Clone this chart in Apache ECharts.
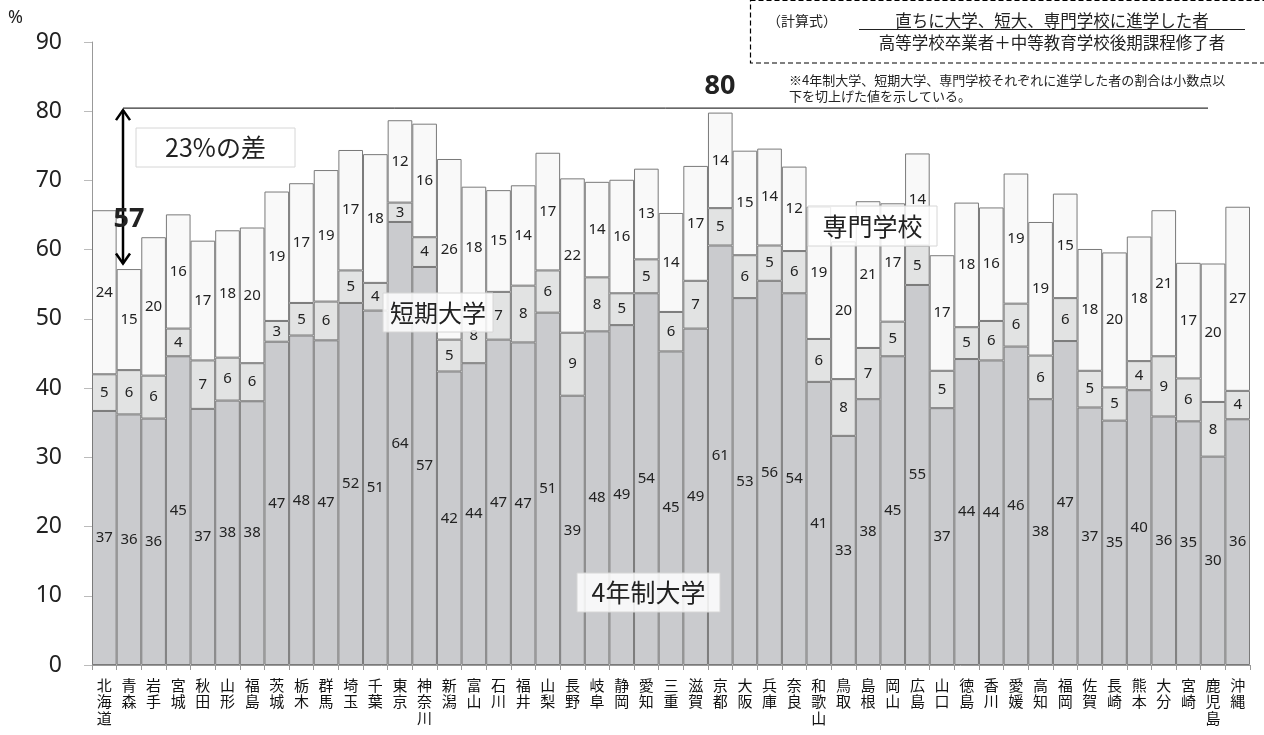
<!DOCTYPE html>
<html>
<head>
<meta charset="utf-8">
<script src="https://cdn.jsdelivr.net/npm/echarts@6/dist/echarts.min.js"></script>
<style>
  html, body { margin: 0; padding: 0; background: #fff; }
  #chart { width: 1264px; height: 735px; }
</style>
</head>
<body>
<div id="chart"></div>
<script>
// 都道府県
const prefs = ['北海道','青森','岩手','宮城','秋田','山形','福島','茨城','栃木','群馬','埼玉','千葉','東京','神奈川',
  '新潟','富山','石川','福井','山梨','長野','岐阜','静岡','愛知','三重','滋賀','京都','大阪','兵庫','奈良','和歌山',
  '鳥取','島根','岡山','広島','山口','徳島','香川','愛媛','高知','福岡','佐賀','長崎','熊本','大分','宮崎','鹿児島','沖縄'];

// 棒の高さ
const univ4 = [36.7,36.2,35.6,44.6,37.0,38.2,38.1,46.7,47.6,46.9,52.3,51.2,64.0,57.5,
  42.4,43.6,47.0,46.6,50.9,38.9,48.2,49.1,53.7,45.3,48.6,60.6,53.0,55.5,53.7,40.9,
  33.1,38.4,44.6,54.9,37.1,44.2,44.0,46.0,38.4,46.8,37.2,35.3,39.7,35.9,35.2,30.1,35.5];
const junior = [5.3,6.4,6.2,4.0,7.0,6.2,5.5,3.0,4.7,5.6,4.7,4.0,2.8,4.3,
  4.6,8.0,6.9,8.2,6.1,9.1,7.8,4.6,4.9,5.7,6.9,5.4,6.2,5.1,6.1,6.2,
  8.2,7.4,5.0,5.7,5.4,4.6,5.7,6.2,6.3,6.2,5.3,4.8,4.2,8.7,6.2,7.9,4.1];
const vocational = [23.7,14.6,20.0,16.5,17.3,18.4,19.6,18.7,17.3,19.0,17.4,18.6,11.9,16.4,
  26.1,17.5,14.7,14.5,17.0,22.3,13.8,16.4,13.1,14.3,16.6,13.8,15.1,14.0,12.2,19.1,
  19.9,21.2,17.1,13.3,16.7,18.0,16.4,18.8,19.3,15.1,17.6,19.5,18.0,21.1,16.7,20.0,26.6];

// 表示されているラベル（小数点以下切上げ）
const univ4Labels = [37,36,36,45,37,38,38,47,48,47,52,51,64,57,42,44,47,47,51,39,48,49,54,45,
  49,61,53,56,54,41,33,38,45,55,37,44,44,46,38,47,37,35,40,36,35,30,36];
const juniorLabels = [5,6,6,4,7,6,6,3,5,6,5,4,3,4,5,8,7,8,6,9,8,5,5,6,
  7,5,6,5,6,6,8,7,5,5,5,5,6,6,6,6,5,5,4,9,6,8,4];
const vocLabels = [24,15,20,16,17,18,20,19,17,19,17,18,12,16,26,18,15,14,17,22,14,16,13,14,
  17,14,15,14,12,19,20,21,17,14,17,18,16,19,19,15,18,20,18,21,17,20,27];

const yTicks = { min: 0, max: 90, interval: 10 };
const maxRate = 80;   // 京都
const minRate = 57;   // 青森

const chart = echarts.init(document.getElementById('chart'));

function segment(name, data, labels, color) {
  return {
    name: name,
    type: 'bar',
    stack: 'total',
    data: data,
    barCategoryGap: '0%',
    silent: true,
    itemStyle: { color: color, borderColor: '#7a7a7a', borderWidth: 1 },
    label: {
      show: true,
      position: 'inside',
      formatter: p => String(labels[p.dataIndex]),
      fontSize: 15,
      color: '#222',
      fontFamily: 'Noto Sans'
    }
  };
}

const option = {
  animation: false,
  grid: { left: 92, right: 14, top: 42, bottom: 70 },
  xAxis: {
    type: 'category',
    data: prefs,
    axisLine: { lineStyle: { color: '#999' } },
    axisTick: { show: true, length: 5, lineStyle: { color: '#999' } },
    axisLabel: {
      interval: 0,
      margin: 12,
      fontSize: 15,
      lineHeight: 16.5,
      color: '#111',
      verticalAlign: 'top',
      fontFamily: 'Noto Sans CJK JP',
      formatter: v => v.split('').join('\n')
    }
  },
  yAxis: {
    type: 'value',
    min: yTicks.min,
    max: yTicks.max,
    interval: yTicks.interval,
    axisLine: { show: true, lineStyle: { color: '#999' } },
    axisTick: { show: true, length: 8, lineStyle: { color: '#bbb' } },
    splitLine: { show: false },
    axisLabel: { margin: 30, fontSize: 23, color: '#222', fontFamily: 'Noto Sans' }
  },
  series: [
    segment('4年制大学', univ4, univ4Labels, '#cacbce'),
    segment('短期大学', junior, juniorLabels, '#e2e3e3'),
    segment('専門学校', vocational, vocLabels, '#f9f9f9')
  ]
};

chart.setOption(option);

// 注記類
const yTop = chart.convertToPixel({ yAxisIndex: 0 }, maxRate + 0.45);
const yLow = chart.convertToPixel({ yAxisIndex: 0 }, minRate + 1.0);
const ax = 123;

function labelBox(x, y, w, h, text, size) {
  return [
    { type: 'rect', z: 100, shape: { x: x, y: y, width: w, height: h },
      style: { fill: 'rgba(255,255,255,0.85)', stroke: '#d6d6d6', lineWidth: 1 } },
    { type: 'text', z: 101, x: x + w / 2, y: y + h / 2,
      style: { text: text, fill: '#222', font: size + 'px "Noto Sans CJK JP"', align: 'center', verticalAlign: 'middle' } }
  ];
}

chart.setOption({
  graphic: [
    { type: 'text', x: 8, y: 9, style: { text: '%', fill: '#222', font: '18px "Noto Sans"' } },
    // 最高との差の線
    { type: 'line', z: 100, shape: { x1: ax, y1: yTop, x2: 1208, y2: yTop }, style: { stroke: '#000', lineWidth: 1 } },
    { type: 'line', z: 100, shape: { x1: ax, y1: yTop + 2, x2: ax, y2: yLow }, style: { stroke: '#000', lineWidth: 2.5 } },
    { type: 'polyline', z: 100, shape: { points: [[ax - 7, yTop + 12], [ax, yTop + 2], [ax + 7, yTop + 12]] }, style: { stroke: '#000', lineWidth: 2.5, fill: null } },
    { type: 'polyline', z: 100, shape: { points: [[ax - 7, yLow - 10], [ax, yLow], [ax + 7, yLow - 10]] }, style: { stroke: '#000', lineWidth: 2.5, fill: null } },
    { type: 'text', z: 101, x: 129, y: 219, style: { text: String(minRate), fill: '#222', font: 'bold 27px "Noto Sans"', align: 'center', verticalAlign: 'middle' } },
    { type: 'text', z: 101, x: 720, y: 86, style: { text: String(maxRate), fill: '#222', font: 'bold 27px "Noto Sans"', align: 'center', verticalAlign: 'middle' } },
    ...labelBox(136, 128, 159, 39, '23%の差', 25),
    ...labelBox(383, 293, 110, 39, '短期大学', 24),
    ...labelBox(577, 573, 143, 39, '4年制大学', 25),
    ...labelBox(808, 206, 129, 40, '専門学校', 25),
    // 計算式
    { type: 'rect', z: 100, shape: { x: 750.5, y: 0.5, width: 530, height: 62.5 },
      style: { fill: '#fff', stroke: '#000', lineWidth: 1.2, lineDash: [5, 3] } },
    { type: 'text', z: 101, x: 767, y: 21, style: { text: '（計算式）', fill: '#222', font: '14px "Noto Sans CJK JP"', verticalAlign: 'middle' } },
    { type: 'text', z: 101, x: 1052, y: 21, style: { text: '直ちに大学、短大、専門学校に進学した者', fill: '#222', font: '16.5px "Noto Sans CJK JP"', align: 'center', verticalAlign: 'middle' } },
    { type: 'line', z: 101, shape: { x1: 859, y1: 29.5, x2: 1245, y2: 29.5 }, style: { stroke: '#222', lineWidth: 1 } },
    { type: 'text', z: 101, x: 1052, y: 43, style: { text: '高等学校卒業者＋中等教育学校後期課程修了者', fill: '#222', font: '16.5px "Noto Sans CJK JP"', align: 'center', verticalAlign: 'middle' } },
    { type: 'text', z: 101, x: 789, y: 80, style: { text: '※4年制大学、短期大学、専門学校それぞれに進学した者の割合は小数点以', fill: '#222', font: '13px "Noto Sans CJK JP"', verticalAlign: 'middle' } },
    { type: 'text', z: 101, x: 789, y: 96, style: { text: '下を切上げた値を示している。', fill: '#222', font: '13px "Noto Sans CJK JP"', verticalAlign: 'middle' } }
  ]
});

window.addEventListener('resize', () => chart.resize());
</script>
</body>
</html>
